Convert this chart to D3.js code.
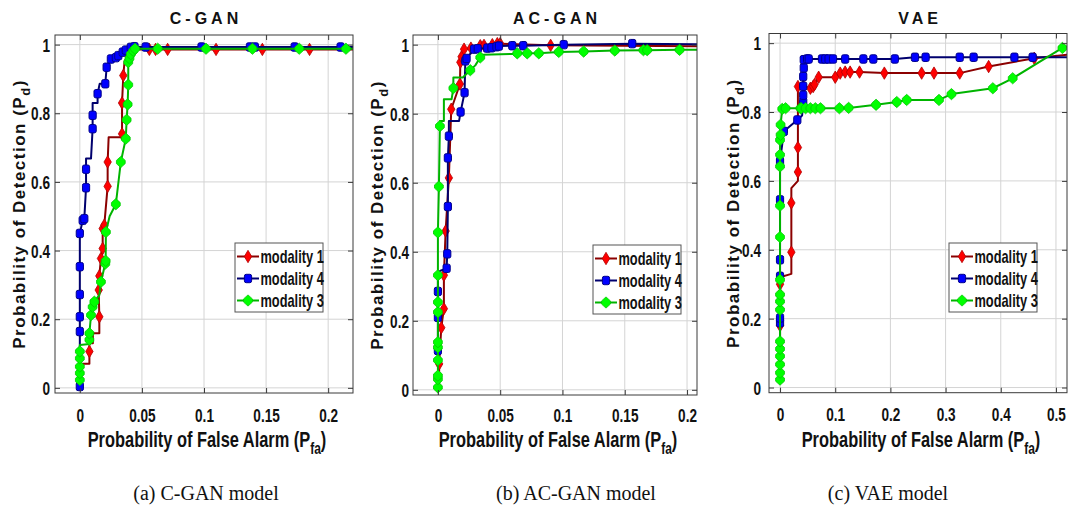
<!DOCTYPE html>
<html><head><meta charset="utf-8">
<script src="https://cdn.jsdelivr.net/npm/d3@7"></script>
<style>
body{margin:0;background:#fff;}
svg{display:block;}
</style></head><body>
<svg id="fig" width="1073" height="508"></svg>
<script>
// ---- data ----
const panelTitles = ["C-GAN", "AC-GAN", "VAE"];
const panelCaptions = ["(a) C-GAN model", "(b) AC-GAN model", "(c) VAE model"];
const seriesNames = ["modality 1", "modality 4", "modality 3"];
const xTicksGan = [0, 0.05, 0.1, 0.15, 0.2];
const xTicksVae = [0, 0.1, 0.2, 0.3, 0.4, 0.5];
const yTicks = [0, 0.2, 0.4, 0.6, 0.8, 1];
const xLabelText = "Probability of False Alarm (P";
const xLabelSub = "fa";
const yLabelText = "Probability of Detection (P";
const yLabelSub = "d";

// ROC points: [Pfa, Pd, marker shown (1) or corner only (0)]
const cganMod1 = [
  [0,0.07,0],[0.0077,0.07,0],[0.0077,0.106,1],[0.0077,0.13,0],[0.0105,0.13,0],[0.0105,0.159,0],
  [0.0157,0.159,0],[0.0157,0.207,1],[0.0152,0.285,1],[0.0157,0.326,1],[0.017,0.377,1],
  [0.0184,0.406,1],[0.0184,0.464,1],[0.0197,0.474,1],[0.0224,0.587,1],[0.0224,0.658,1],
  [0.0232,0.73,0],[0.034,0.73,0],[0.034,0.74,1],[0.034,0.83,1],[0.035,0.91,1],[0.036,0.95,0],
  [0.0385,0.97,1],[0.04,0.975,1],[0.044,0.986,1],[0.056,0.986,1],[0.061,0.986,1],
  [0.0707,0.986,1],[0.1097,0.986,1],[0.147,0.986,1],[0.185,0.986,1],[0.23,0.986,0]
];
const cganMod4 = [
  [0,0.004,1],[0,0.164,1],[0,0.207,1],[0,0.272,1],[0,0.353,1],[0,0.45,1],[0.0023,0.488,1],
  [0.0036,0.493,1],[0.005,0.583,1],[0.005,0.637,1],[0.005,0.668,0],[0.009,0.668,0],
  [0.0103,0.755,1],[0.0103,0.794,1],[0.0103,0.83,0],[0.0143,0.83,0],[0.0143,0.857,1],
  [0.016,0.886,0],[0.0205,0.886,1],[0.0216,0.934,1],[0.025,0.958,1],[0.029,0.962,1],
  [0.031,0.968,1],[0.0345,0.978,1],[0.037,0.984,1],[0.041,0.992,1],[0.044,0.994,1],
  [0.053,0.993,1],[0.098,0.993,1],[0.137,0.993,1],[0.141,0.993,1],[0.173,0.993,1],
  [0.21,0.993,1],[0.23,0.993,0]
];
const cganMod3 = [
  [0,0.023,1],[0,0.043,1],[0,0.062,1],[0,0.086,1],[0,0.106,1],[0,0.125,0],[0.0077,0.128,0],
  [0.0077,0.14,1],[0.0077,0.159,1],[0.009,0.212,1],[0.0103,0.236,1],[0.0117,0.251,1],
  [0.0157,0.27,0],[0.017,0.309,1],[0.0205,0.362,1],[0.0208,0.37,1],[0.021,0.454,1],
  [0.024,0.5,0],[0.029,0.535,1],[0.033,0.658,1],[0.037,0.726,1],[0.0377,0.781,1],
  [0.0385,0.826,1],[0.039,0.883,1],[0.039,0.949,1],[0.04,0.96,1],[0.041,0.972,1],
  [0.043,0.982,1],[0.0445,0.988,1],[0.0627,0.988,1],[0.1016,0.988,1],[0.139,0.988,1],
  [0.1767,0.988,1],[0.2143,0.988,1],[0.23,0.988,0]
];

const acganMod1 = [
  [0.001,0,0],[0.001,0.075,1],[0.0027,0.18,1],[0.0048,0.235,1],[0.0048,0.332,1],
  [0.0062,0.46,1],[0.0088,0.614,1],[0.0107,0.813,1],[0.0177,0.886,1],[0.018,0.949,1],
  [0.019,0.965,1],[0.021,0.987,1],[0.0265,0.99,1],[0.034,0.997,1],[0.037,0.998,1],
  [0.0437,1.0,1],[0.0477,1.003,1],[0.05,1.003,1],[0.0905,0.998,1],[0.23,0.995,0]
];
const acganMod4 = [
  [0,0.08,0],[0,0.114,1],[0,0.21,1],[0,0.285,1],[0,0.34,0],[0.002,0.345,0],[0.007,0.352,1],
  [0.0075,0.394,1],[0.008,0.531,1],[0.008,0.672,1],[0.0088,0.735,1],[0.0088,0.779,0],
  [0.017,0.779,0],[0.0182,0.805,1],[0.0214,0.861,1],[0.022,0.953,1],[0.023,0.96,1],
  [0.029,0.987,1],[0.032,0.988,1],[0.0396,0.99,1],[0.043,0.991,1],[0.047,0.994,1],
  [0.049,0.996,1],[0.0597,0.997,1],[0.0685,0.997,1],[0.101,1.0,1],[0.156,1.003,1],
  [0.23,1.0,0]
];
const acganMod3 = [
  [0,0.007,1],[0,0.031,1],[0,0.041,1],[0,0.086,1],[0,0.123,1],[0,0.138,1],[0,0.225,1],
  [0,0.254,1],[0,0.332,1],[0,0.456,1],[0.0008,0.589,1],[0.0016,0.764,1],[0.0016,0.779,0],
  [0.0048,0.779,0],[0.0048,0.842,0],[0.011,0.842,0],[0.0124,0.874,1],[0.0124,0.905,0],
  [0.02,0.905,0],[0.026,0.926,1],[0.03,0.94,0],[0.034,0.963,1],[0.036,0.971,0],
  [0.06,0.973,0],[0.0637,0.975,1],[0.0717,0.975,1],[0.081,0.975,1],[0.097,0.979,1],
  [0.117,0.98,1],[0.142,0.983,1],[0.165,0.984,1],[0.168,0.984,1],[0.194,0.985,1],
  [0.23,0.986,0]
];

const vaeMod1 = [
  [0,0.15,0],[0,0.18,1],[0,0.27,1],[0,0.3,1],[0,0.32,0],[0.0205,0.33,0],[0.0205,0.393,1],
  [0.0205,0.536,1],[0.0205,0.579,0],[0.0324,0.6,0],[0.0324,0.626,1],[0.0324,0.697,1],
  [0.0324,0.874,1],[0.0424,0.874,1],[0.055,0.869,1],[0.06,0.874,1],[0.0625,0.88,1],
  [0.070,0.901,1],[0.1,0.901,1],[0.109,0.913,1],[0.118,0.916,1],[0.127,0.916,1],
  [0.144,0.916,1],[0.189,0.913,1],[0.2566,0.913,1],[0.279,0.913,1],[0.3256,0.913,1],
  [0.378,0.932,1],[0.4607,0.956,1],[0.53,0.968,0]
];
const vaeMod4 = [
  [0,0.15,0],[0,0.188,1],[0,0.202,1],[0,0.323,1],[0,0.371,1],[0,0.545,1],[0,0.657,1],
  [0.007,0.744,1],[0.0313,0.777,1],[0.04,0.79,0],[0.042,0.83,1],[0.042,0.849,1],
  [0.042,0.875,1],[0.042,0.903,1],[0.043,0.928,1],[0.043,0.952,1],[0.049,0.954,1],
  [0.052,0.954,1],[0.076,0.954,1],[0.082,0.954,1],[0.088,0.954,1],[0.096,0.954,1],
  [0.118,0.954,1],[0.151,0.954,1],[0.169,0.954,1],[0.208,0.954,1],[0.2445,0.959,1],
  [0.2638,0.959,1],[0.3256,0.959,1],[0.3508,0.959,1],[0.4247,0.959,1],[0.4577,0.959,1],
  [0.53,0.959,0]
];
const vaeMod3 = [
  [0,0.023,1],[0,0.043,1],[0,0.067,1],[0,0.091,1],[0,0.112,1],[0,0.134,1],[0,0.226,1],
  [0,0.25,1],[0,0.27,1],[0,0.313,1],[0,0.437,1],[0,0.528,1],[0,0.642,1],[0,0.676,1],
  [0,0.719,1],[0.001,0.734,1],[0.001,0.763,1],[0.004,0.809,1],[0.01,0.811,1],
  [0.037,0.811,1],[0.0385,0.811,1],[0.0463,0.811,1],[0.055,0.811,1],[0.064,0.811,1],
  [0.0733,0.811,1],[0.1076,0.811,1],[0.1243,0.812,1],[0.174,0.821,1],[0.2115,0.829,1],
  [0.2295,0.835,1],[0.288,0.835,1],[0.3106,0.852,1],[0.3856,0.869,1],[0.4216,0.898,1],
  [0.5117,0.986,1],[0.53,0.995,0]
];

// ---- styling / layout ----
const SANS = "'Liberation Sans',Arial,Helvetica,sans-serif";
const SERIF = "'Liberation Serif','Times New Roman',serif";
const NARROW_X = 0.8;      // horizontal squeeze for the narrow label face
const NARROW_Y = 1.1;
const styles = [
  {line:"#8b0000", fill:"#ff0000", stroke:"#b00000", shape:"diamond"},
  {line:"#00006e", fill:"#0000ff", stroke:"#00008b", shape:"square"},
  {line:"#00b400", fill:"#00ff00", stroke:"#00c800", shape:"hex"}
];
const yDomain = [-0.015, 1.028];

const panels = [
  {left:55, right:353, top:35, bottom:393, xDomain:[-0.02,0.22], xTicks:xTicksGan,
   series:[cganMod1,cganMod4,cganMod3], legend:[235,243], yLabX:25, yPad:5, capX:206},
  {left:413, right:697, top:35, bottom:395, xDomain:[-0.02,0.208], xTicks:xTicksGan,
   series:[acganMod1,acganMod4,acganMod3], legend:[593,245], yLabX:383, yPad:4, capX:576},
  {left:769, right:1067, top:33.5, bottom:392.7, xDomain:[-0.02,0.52], xTicks:xTicksVae,
   series:[vaeMod1,vaeMod4,vaeMod3], legend:[949,243], yLabX:739, yPad:8, capX:888}
];

const svg = d3.select("#fig");

function marker(sel, st) {
  if (st.shape === "square") {
    sel.append("rect").attr("x",-3.6).attr("y",-4.2).attr("width",7.2).attr("height",8.4)
      .attr("rx",1.8).attr("fill",st.fill).attr("stroke",st.stroke).attr("stroke-width",1);
  } else if (st.shape === "diamond") {
    sel.append("path").attr("d","M0,-6.2L3.7,0L0,6.2L-3.7,0Z")
      .attr("fill",st.fill).attr("stroke",st.stroke).attr("stroke-width",0.8);
  } else {
    sel.append("path").attr("d","M0,-5.6L4.4,-1.6L4.4,1.6L0,5.6L-4.4,1.6L-4.4,-1.6Z")
      .attr("fill",st.fill).attr("stroke",st.stroke).attr("stroke-width",0.8)
      .attr("stroke-linejoin","round");
  }
}

// narrow bold text placed at (tx, ty)
function narrowText(parent, tx, ty, size, anchor) {
  return parent.append("text")
    .attr("transform", `translate(${tx},${ty}) scale(${NARROW_X},${NARROW_Y})`)
    .attr("text-anchor", anchor).attr("font-family", SANS).attr("font-weight","bold")
    .attr("font-size", size).attr("fill","#111");
}

const fmt = d => String(d);

panels.forEach((p, i) => {
  const g = svg.append("g");
  const x = d3.scaleLinear().domain(p.xDomain).range([p.left, p.right]);
  const y = d3.scaleLinear().domain(yDomain).range([p.bottom, p.top]);
  const w = p.right - p.left, h = p.bottom - p.top;

  g.append("rect").attr("x",p.left).attr("y",p.top).attr("width",w).attr("height",h).attr("fill","#fff");

  // grid
  g.append("g").selectAll("line").data(p.xTicks).join("line")
    .attr("x1",d=>x(d)).attr("x2",d=>x(d)).attr("y1",p.top).attr("y2",p.bottom)
    .attr("stroke","#d4d4d4").attr("stroke-width",1);
  g.append("g").selectAll("line").data(yTicks).join("line")
    .attr("x1",p.left).attr("x2",p.right).attr("y1",d=>y(d)).attr("y2",d=>y(d))
    .attr("stroke","#d4d4d4").attr("stroke-width",1);

  // curves
  const clipId = "clip" + i;
  svg.append("clipPath").attr("id",clipId).append("rect")
    .attr("x",p.left).attr("y",p.top-8).attr("width",w).attr("height",h+8);
  const plot = g.append("g").attr("clip-path",`url(#${clipId})`);
  const line = d3.line().x(d=>x(d[0])).y(d=>y(d[1]));
  p.series.forEach((s, k) => {
    const st = styles[k];
    plot.append("path").datum(s).attr("d",line).attr("fill","none")
      .attr("stroke",st.line).attr("stroke-width",2).attr("stroke-linejoin","round");
    plot.append("g").selectAll("g").data(s.filter(d=>d[2]===1)).join("g")
      .attr("transform",d=>`translate(${x(d[0])},${y(d[1])})`)
      .each(function(){ marker(d3.select(this), st); });
  });

  // axes, ticks pointing inward
  const axCol = "#3a3a3a";
  const bx = g.append("g").attr("transform",`translate(0,${p.bottom})`)
    .call(d3.axisBottom(x).tickValues(p.xTicks).tickSizeInner(-5).tickSizeOuter(0).tickFormat(fmt));
  const tx = g.append("g").attr("transform",`translate(0,${p.top})`)
    .call(d3.axisTop(x).tickValues(p.xTicks).tickSizeInner(-5).tickSizeOuter(0).tickFormat(""));
  const ly = g.append("g").attr("transform",`translate(${p.left},0)`)
    .call(d3.axisLeft(y).tickValues(yTicks).tickSizeInner(-5).tickSizeOuter(0).tickFormat(fmt));
  const ry = g.append("g").attr("transform",`translate(${p.right},0)`)
    .call(d3.axisRight(y).tickValues(yTicks).tickSizeInner(-5).tickSizeOuter(0).tickFormat(""));
  [bx,tx,ly,ry].forEach(a => {
    a.select(".domain").remove();
    a.selectAll("line").attr("stroke",axCol);
  });
  // tick labels in the narrow face
  bx.selectAll(".tick text").attr("x",null).attr("y",null).attr("dy",null)
    .attr("transform",`translate(0,${28.5 + (p.bottom === 395 ? -1.5 : 0)}) scale(${NARROW_X},${NARROW_Y})`)
    .attr("fill","#111").attr("font-family",SANS).attr("font-weight","bold").attr("font-size",17);
  ly.selectAll(".tick text").attr("x",null).attr("dy",null)
    .attr("transform",`translate(${-p.yPad},6.5) scale(${NARROW_X},${NARROW_Y})`)
    .attr("fill","#111").attr("font-family",SANS).attr("font-weight","bold").attr("font-size",17);

  g.append("rect").attr("x",p.left).attr("y",p.top).attr("width",w).attr("height",h)
    .attr("fill","none").attr("stroke",axCol).attr("stroke-width",1);

  // title
  g.append("text").attr("x",(p.left+p.right)/2 + 2).attr("y",24).attr("text-anchor","middle")
    .attr("font-family",SANS).attr("font-weight","bold").attr("font-size",16)
    .attr("letter-spacing","4px").attr("fill","#111").text(panelTitles[i]);

  // x label
  const xl = narrowText(g, (p.left+p.right)/2 + 3, 446.5, 20.5, "middle");
  xl.append("tspan").text(xLabelText);
  xl.append("tspan").attr("dy",7).attr("font-size",15).text(xLabelSub);
  xl.append("tspan").attr("dy",-7).text(")");

  // y label
  const yl = g.append("text").attr("transform",`translate(${p.yLabX},${(p.top+p.bottom)/2}) rotate(-90)`)
    .attr("text-anchor","middle").attr("font-family",SANS).attr("font-weight","bold")
    .attr("font-size",17).attr("letter-spacing","1.5px").attr("fill","#111");
  yl.append("tspan").text(yLabelText);
  yl.append("tspan").attr("dy",5).attr("font-size",13).text(yLabelSub);
  yl.append("tspan").attr("dy",-5).text(")");

  // legend
  const [lx, lyy] = p.legend;
  const lg = g.append("g").attr("transform",`translate(${lx},${lyy})`);
  lg.append("rect").attr("width",88).attr("height",69).attr("fill","#fff")
    .attr("stroke","#555").attr("stroke-width",1);
  seriesNames.forEach((name, k) => {
    const st = styles[k];
    const ry0 = 13.5 + k*22;
    lg.append("line").attr("x1",2).attr("x2",24).attr("y1",ry0).attr("y2",ry0)
      .attr("stroke",st.line).attr("stroke-width",2);
    const m = lg.append("g").attr("transform",`translate(13,${ry0})`);
    marker(m, st);
    narrowText(lg, 25.5, ry0 + 6, 16, "start").text(name);
  });

  // caption
  svg.append("text").attr("transform",`translate(${p.capX},500) scale(1,1.08)`)
    .attr("text-anchor","middle").attr("font-family",SERIF).attr("font-size",20)
    .attr("fill","#111").text(panelCaptions[i]);
});
</script>
</body></html>
